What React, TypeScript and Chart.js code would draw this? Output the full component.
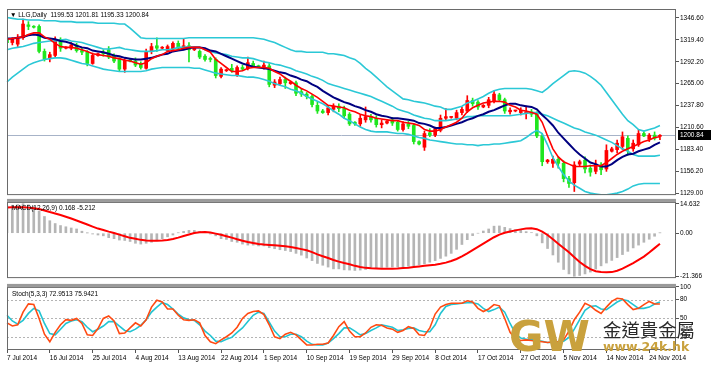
import React, { useEffect, useRef } from 'react';
import { Chart, registerables } from 'chart.js';

Chart.register(...registerables);

const FONT = '"Liberation Sans", Arial, sans-serif';
const W = 711;
const AXIS_W = 35;
const SLOTS = 126;

const SYMBOL = 'LLG,Daily';
const DATE_TICKS = ['7 Jul 2014', '16 Jul 2014', '25 Jul 2014', '4 Aug 2014', '13 Aug 2014', '22 Aug 2014', '1 Sep 2014', '10 Sep 2014', '19 Sep 2014', '29 Sep 2014', '8 Oct 2014', '17 Oct 2014', '27 Oct 2014', '5 Nov 2014', '14 Nov 2014', '24 Nov 2014'];
const PRICE_TICKS = [1346.6, 1319.4, 1292.2, 1265.0, 1237.8, 1210.6, 1183.4, 1156.2, 1129.0];
const MACD_TICKS = [14.632, 0, -21.366];
const STOCH_TICKS = [100, 80, 50, 20];
const STOCH_LEVELS = [80, 50, 20];

const OPEN = [1320, 1316, 1314, 1322, 1338, 1336, 1336, 1305, 1296, 1300,
  1320, 1309, 1309, 1313, 1306, 1304, 1290, 1300, 1304, 1307,
  1300, 1295, 1283, 1294, 1293, 1289, 1284, 1305, 1312, 1309,
  1306, 1308, 1315, 1310, 1312, 1307, 1305, 1299, 1296, 1295,
  1274, 1281, 1284, 1276, 1285, 1284, 1290, 1287, 1285, 1287,
  1263, 1265, 1270, 1265, 1266, 1255, 1252, 1249, 1238, 1231,
  1229, 1233, 1237, 1234, 1227, 1217, 1215, 1220, 1224, 1222,
  1214, 1216, 1220, 1217, 1208, 1215, 1213, 1193, 1186, 1204,
  1201, 1207, 1222, 1223, 1222, 1229, 1231, 1244, 1242, 1236,
  1238, 1243, 1251, 1245, 1230, 1231, 1229, 1228, 1230, 1227,
  1200, 1168, 1166, 1171, 1166, 1147, 1142, 1165, 1170, 1160,
  1156, 1164, 1159, 1181, 1183, 1187, 1197, 1184, 1189, 1203,
  1196, 1201, 1199.53];
const HIGH = [1323, 1322, 1326, 1345, 1342, 1337, 1338, 1308, 1304, 1323,
  1322, 1311, 1316, 1315, 1309, 1306, 1303, 1303, 1307, 1311,
  1302, 1297, 1296, 1295, 1297, 1292, 1308, 1315, 1322, 1311,
  1313, 1317, 1318, 1320, 1316, 1310, 1307, 1301, 1298, 1297,
  1285, 1283, 1289, 1287, 1288, 1298, 1293, 1288, 1293, 1290,
  1270, 1273, 1273, 1268, 1268, 1258, 1254, 1251, 1242, 1233,
  1238, 1240, 1240, 1237, 1229, 1218, 1226, 1236, 1227, 1225,
  1220, 1219, 1223, 1219, 1218, 1218, 1215, 1194, 1206, 1209,
  1211, 1226, 1234, 1224, 1232, 1236, 1250, 1247, 1244, 1239,
  1248, 1256, 1253, 1247, 1235, 1232, 1235, 1237, 1233, 1230,
  1202, 1171, 1175, 1174, 1169, 1150, 1168, 1170, 1174, 1164,
  1170, 1167, 1189, 1186, 1195, 1205, 1200, 1195, 1208, 1205,
  1203, 1205, 1201.81];
const LOW = [1312, 1313, 1311, 1320, 1332, 1334, 1303, 1293, 1292, 1298,
  1305, 1308, 1307, 1304, 1301, 1287, 1289, 1299, 1299, 1296,
  1291, 1281, 1279, 1292, 1286, 1283, 1283, 1302, 1305, 1308,
  1304, 1306, 1307, 1307, 1292, 1306, 1296, 1293, 1292, 1272,
  1272, 1280, 1279, 1274, 1281, 1282, 1285, 1285, 1283, 1261,
  1260, 1263, 1259, 1264, 1250, 1249, 1246, 1236, 1228, 1228,
  1226, 1230, 1230, 1222, 1213, 1213, 1212, 1217, 1217, 1211,
  1210, 1215, 1213, 1206, 1206, 1209, 1190, 1189, 1182, 1199,
  1199, 1205, 1219, 1222, 1220, 1226, 1229, 1237, 1233, 1235,
  1235, 1241, 1243, 1228, 1227, 1230, 1226, 1221, 1224, 1198,
  1163, 1166, 1161, 1160, 1143, 1136, 1131, 1163, 1154, 1150,
  1153, 1152, 1156, 1180, 1179, 1183, 1176, 1181, 1187, 1199,
  1193, 1195, 1195.33];
const CLOSE = [1316, 1320, 1322, 1339, 1336, 1335, 1305, 1296, 1301, 1320,
  1309, 1310, 1313, 1306, 1304, 1290, 1300, 1302, 1302, 1298,
  1293, 1283, 1294, 1293, 1288, 1285, 1305, 1311, 1309, 1310,
  1311, 1315, 1309, 1312, 1307, 1309, 1298, 1295, 1295, 1275,
  1283, 1282, 1281, 1285, 1283, 1291, 1287, 1286, 1288, 1264,
  1267, 1270, 1266, 1267, 1253, 1252, 1249, 1239, 1231, 1229,
  1235, 1237, 1234, 1225, 1215, 1215, 1222, 1224, 1220, 1214,
  1216, 1218, 1216, 1208, 1215, 1212, 1193, 1190, 1203, 1201,
  1209, 1222, 1224, 1223, 1229, 1233, 1244, 1240, 1236, 1238,
  1245, 1252, 1245, 1231, 1232, 1231, 1232, 1230, 1227, 1200,
  1168, 1170, 1171, 1166, 1147, 1141, 1164, 1168, 1159, 1155,
  1165, 1158, 1182, 1184, 1191, 1199, 1184, 1191, 1203, 1200,
  1201, 1197, 1200.84];

const MA_FAST = [1320, 1321, 1322, 1323, 1326, 1328, 1328, 1323, 1320, 1315,
  1311, 1310, 1310, 1309, 1307, 1305, 1302, 1301, 1300, 1299,
  1297, 1296, 1294, 1293, 1291, 1289, 1291, 1296, 1299, 1301,
  1305, 1306, 1307, 1309, 1310, 1310, 1310, 1307, 1304, 1295,
  1290, 1285, 1280, 1280, 1281, 1284, 1285, 1285, 1285, 1284,
  1280, 1277, 1272, 1268, 1263, 1259, 1256, 1252, 1248, 1243,
  1238, 1237, 1236, 1235, 1232, 1230, 1227, 1225, 1224, 1222,
  1221, 1220, 1219, 1219, 1217, 1216, 1215, 1213, 1208, 1206,
  1206, 1208, 1211, 1214, 1217, 1222, 1230, 1235, 1238, 1241,
  1242, 1243, 1243, 1242, 1238, 1236, 1232, 1231, 1229, 1227,
  1217, 1200, 1184, 1174, 1168, 1165, 1162, 1162, 1162, 1163,
  1163, 1163, 1167, 1172, 1177, 1181, 1184, 1187, 1190, 1193,
  1195, 1198, 1199];
const MA_SLOW = [1321, 1321, 1322, 1323, 1325, 1326, 1325, 1322, 1321, 1320,
  1318, 1317, 1315, 1312, 1310, 1309, 1306, 1305, 1304, 1302,
  1300, 1299, 1297, 1296, 1295, 1295, 1296, 1297, 1299, 1301,
  1302, 1305, 1306, 1307, 1309, 1310, 1310, 1309, 1306, 1305,
  1302, 1299, 1296, 1293, 1290, 1288, 1286, 1285, 1284, 1283,
  1281, 1279, 1278, 1275, 1273, 1270, 1268, 1264, 1261, 1256,
  1252, 1248, 1245, 1242, 1240, 1237, 1235, 1232, 1230, 1227,
  1225, 1224, 1222, 1222, 1221, 1220, 1219, 1216, 1215, 1213,
  1210, 1210, 1211, 1213, 1215, 1217, 1220, 1222, 1225, 1227,
  1230, 1232, 1235, 1238, 1240, 1240, 1238, 1237, 1236, 1233,
  1226, 1220, 1213, 1204, 1197, 1190, 1183, 1177, 1172, 1167,
  1165, 1162, 1162, 1165, 1170, 1174, 1177, 1178, 1181, 1183,
  1185, 1189, 1192];
const BB_UPPER = [1347, 1346, 1345, 1345, 1344, 1344, 1344, 1343, 1343, 1343,
  1342, 1342, 1342, 1341, 1341, 1341, 1341, 1340, 1340, 1340,
  1340, 1339, 1339, 1334, 1328, 1322, 1321, 1321, 1321, 1321,
  1321, 1321, 1321, 1321, 1322, 1322, 1322, 1322, 1322, 1322,
  1322, 1322, 1322, 1322, 1322, 1322, 1322, 1321, 1320, 1318,
  1316, 1313, 1310, 1307, 1305, 1305, 1304, 1304, 1304, 1304,
  1302, 1302, 1301, 1300, 1297, 1295, 1290, 1284, 1279, 1273,
  1267, 1261, 1256, 1251, 1246, 1245, 1243, 1242, 1241, 1239,
  1237, 1236, 1233, 1233, 1235, 1237, 1241, 1243, 1246, 1249,
  1253, 1256, 1258, 1259, 1259, 1259, 1259, 1259, 1258, 1256,
  1254, 1259, 1265, 1270, 1275, 1280, 1281, 1280, 1278, 1274,
  1269, 1263, 1254, 1245, 1236, 1227, 1219, 1214, 1208, 1206,
  1208, 1210, 1213];
const BB_MIDDLE = [1307, 1309, 1310, 1311, 1313, 1315, 1316, 1317, 1318, 1318,
  1319, 1320, 1318, 1317, 1316, 1314, 1312, 1310, 1308, 1308,
  1309, 1310, 1308, 1307, 1306, 1305, 1305, 1305, 1306, 1307,
  1307, 1308, 1310, 1310, 1311, 1310, 1310, 1307, 1305, 1303,
  1302, 1301, 1299, 1298, 1297, 1297, 1296, 1294, 1292, 1291,
  1289, 1288, 1286, 1284, 1281, 1279, 1277, 1274, 1272, 1269,
  1265, 1263, 1261, 1259, 1257, 1255, 1253, 1251, 1249, 1246,
  1243, 1240, 1237, 1233, 1231, 1229, 1226, 1224, 1222, 1221,
  1219, 1219, 1219, 1220, 1221, 1222, 1224, 1224, 1225, 1225,
  1225, 1225, 1225, 1225, 1225, 1226, 1227, 1228, 1229, 1229,
  1227, 1225, 1222, 1219, 1216, 1213, 1210, 1208, 1205, 1203,
  1201, 1198, 1195, 1192, 1188, 1184, 1181, 1177, 1175, 1175,
  1175, 1175, 1176];
const BB_LOWER = [1267, 1273, 1278, 1283, 1288, 1291, 1293, 1295, 1296, 1297,
  1297, 1296, 1294, 1292, 1290, 1289, 1287, 1285, 1283, 1282,
  1281, 1280, 1280, 1280, 1280, 1280, 1281, 1283, 1284, 1285,
  1285, 1285, 1285, 1285, 1285, 1284, 1284, 1282, 1280, 1278,
  1277, 1276, 1275, 1275, 1274, 1273, 1273, 1272, 1270, 1268,
  1265, 1263, 1261, 1258, 1256, 1253, 1249, 1246, 1243, 1240,
  1236, 1231, 1227, 1222, 1219, 1215, 1211, 1208, 1206, 1205,
  1205, 1205, 1204, 1203, 1203, 1202, 1200, 1198, 1197, 1195,
  1194, 1193, 1192, 1191, 1190, 1190, 1189, 1189, 1188, 1189,
  1189, 1190, 1190, 1191, 1192, 1193, 1194, 1198, 1203, 1207,
  1203, 1189, 1173, 1162, 1152, 1144, 1139, 1135, 1131, 1129,
  1128, 1127, 1127, 1128, 1129, 1131, 1134, 1138, 1140, 1141,
  1141, 1141, 1141];

const MACD_MAIN = [13.6, 13.9, 14.2, 14.632, 14.1, 13.2, 11.0, 8.3, 6.2, 4.8,
  3.8, 3.2, 2.6, 2.1, 1.0, 0.1, -0.4, -0.9, -1.3, -2.2,
  -2.7, -3.4, -3.6, -4.1, -5.0, -5.4, -5.0, -4.5, -3.6, -2.7,
  -1.8, -0.9, 0.2, 0.9, 1.4, 1.4, 0.9, 0.5, -0.4, -1.3,
  -2.7, -3.1, -4.1, -4.5, -5.4, -5.9, -5.9, -6.3, -6.3, -7.2,
  -7.7, -8.2, -8.6, -9.1, -10.0, -10.9, -12.3, -13.6, -15.0, -15.9,
  -16.8, -17.7, -17.7, -18.2, -18.3, -18.5, -18.3, -18.0, -17.6, -17.3,
  -17.0, -16.9, -16.8, -16.8, -16.6, -16.4, -16.2, -15.7, -15.2, -14.4,
  -13.6, -12.5, -11.4, -10.0, -8.0, -5.6, -3.2, -1.2, 0.0, 1.1,
  2.1, 3.5, 3.6, 2.9, 2.3, 1.8, 1.4, 0.8, 0.3, -1.3,
  -4.8, -7.6, -10.8, -14.4, -18.0, -20.2, -21.366, -21.0, -20.2, -19.3,
  -17.8, -16.2, -14.8, -13.5, -12.1, -10.6, -9.0, -7.3, -5.9, -4.5,
  -3.0, -1.5, 0.168];
const MACD_SIGNAL = [12.8, 12.9, 12.9, 12.9, 12.7, 12.4, 12.0, 11.3, 10.5, 9.8,
  9.0, 8.2, 7.3, 6.3, 5.3, 4.3, 3.3, 2.3, 1.6, 0.8,
  0.1, -0.7, -1.5, -2.3, -2.8, -3.3, -3.6, -3.7, -3.7, -3.6,
  -3.4, -2.9, -2.2, -1.4, -0.6, 0.1, 0.5, 0.6, 0.3, -0.2,
  -0.8, -1.5, -2.2, -3.0, -3.7, -4.4, -4.9, -5.3, -5.6, -5.8,
  -6.0, -6.2, -6.5, -6.8, -7.3, -7.9, -8.5, -9.4, -10.5, -11.4,
  -12.3, -13.3, -14.1, -14.8, -15.4, -16.2, -16.8, -17.2, -17.4, -17.5,
  -17.6, -17.6, -17.6, -17.5, -17.3, -17.1, -16.8, -16.5, -16.2, -15.9,
  -15.6, -15.2, -14.6, -13.8, -12.8, -11.5, -10.0, -8.4, -6.8, -5.2,
  -3.6, -2.0, -0.7, 0.2, 0.8, 1.4, 1.9, 2.3, 2.5, 2.0,
  0.8, -0.9, -3.0, -5.2, -7.3, -9.5, -11.9, -14.3, -16.2, -17.8,
  -18.9, -19.3, -19.4, -19.3, -18.6, -17.6, -16.2, -14.8, -13.2, -11.6,
  -9.6, -7.4, -5.212];

const STOCH_MAIN = [43, 38, 40, 60, 73, 72, 50, 25, 13, 28,
  40, 48, 47, 50, 42, 24, 23, 34, 50, 54,
  46, 26, 27, 35, 43, 38, 48, 68, 79, 76,
  65, 65, 55, 48, 47, 48, 43, 23, 13, 10,
  16, 21, 27, 36, 50, 58, 61, 62, 56, 40,
  21, 18, 25, 28, 24, 16, 8, 8, 9, 9,
  11, 23, 37, 45, 30, 21, 21, 27, 36, 40,
  39, 35, 33, 28, 31, 37, 34, 24, 23, 35,
  57, 68, 72, 74, 74, 74, 78, 76, 66, 61,
  65, 72, 70, 50, 28, 18, 15, 16, 15, 14,
  13, 12, 13, 13, 16, 30, 48, 60, 74, 70,
  63, 58, 68, 77, 82, 81, 72, 64, 66, 72,
  77, 73, 72.9513];
const STOCH_SIGNAL = [55, 46, 41, 47, 58, 66, 62, 42, 26, 24,
  33, 42, 46, 48, 45, 36, 29, 33, 38, 45,
  45, 38, 31, 29, 33, 39, 48, 60, 68, 75,
  72, 65, 57, 51, 48, 47, 40, 30, 23, 14,
  13, 17, 20, 28, 35, 45, 55, 60, 58, 44,
  30, 21, 21, 25, 25, 21, 14, 9, 8, 8,
  11, 18, 26, 35, 35, 30, 24, 26, 31, 35,
  40, 38, 36, 31, 32, 34, 35, 31, 29, 29,
  40, 58, 69, 72, 73, 74, 75, 75, 73, 66,
  61, 64, 68, 60, 42, 26, 19, 17, 17, 15,
  14, 12, 12, 13, 14, 20, 33, 48, 63, 69,
  70, 65, 64, 70, 76, 80, 78, 72, 66, 66,
  68, 73, 75.9421];

const CATEGORIES = Array.from({ length: SLOTS }, (_, i) => String(i));
const LAST = CLOSE.length - 1;

const BULL = '#ff0000';
const BEAR = '#1fe61f';
const BB_COLOR = '#2bc8d6';
const TICK_FONT = { family: FONT, size: 6.5 };

const panelPlugin: any = {
  id: 'panel',
  beforeDatasetsDraw(chart: any, _a: any, opts: any) {
    const { ctx, chartArea: a } = chart;
    const ys = chart.scales.y;
    ctx.save();
    for (const h of opts.levels || []) {
      const y = Math.round(ys.getPixelForValue(h.value)) + 0.5;
      ctx.strokeStyle = h.color;
      ctx.lineWidth = 1;
      ctx.setLineDash(h.dash || []);
      ctx.beginPath();
      ctx.moveTo(a.left, y);
      ctx.lineTo(a.right, y);
      ctx.stroke();
    }
    ctx.restore();
  },
  afterDraw(chart: any, _a: any, opts: any) {
    const { ctx, chartArea: a } = chart;
    ctx.save();
    ctx.setLineDash([]);
    if (opts.separator) {
      ctx.fillStyle = '#9a9a9a';
      ctx.fillRect(a.left, a.top - 3, a.right - a.left, 3);
    }
    ctx.strokeStyle = '#6a6a6a';
    ctx.lineWidth = 1;
    ctx.strokeRect(a.left + 0.5, a.top + 0.5, a.right - a.left - 1, a.bottom - a.top - 1);
    ctx.font = `6.5px ${FONT}`;
    ctx.textBaseline = 'middle';
    ctx.textAlign = 'left';
    ctx.fillStyle = '#000';
    if (opts.title) ctx.fillText(opts.title, a.left + opts.titleX, a.top + opts.titleY);
    if (opts.tag !== undefined) {
      const y = Math.round(chart.scales.y.getPixelForValue(opts.tag));
      ctx.fillStyle = '#000';
      ctx.fillRect(a.right + 2, y - 5, W - a.right - 2, 10);
      ctx.fillStyle = '#fff';
      ctx.fillText(opts.tag.toFixed(2), a.right + 4, y + 0.5);
    }
    ctx.restore();
  },
};

function yAxis(min: number, max: number, ticks: number[], fmt: (v: number) => string) {
  return {
    position: 'right',
    min,
    max,
    afterBuildTicks: (s: any) => { s.ticks = ticks.map((v) => ({ value: v })); },
    afterFit: (s: any) => { s.width = AXIS_W; },
    ticks: { callback: (v: any) => fmt(Number(v)), font: TICK_FONT, color: '#000', padding: 1, autoSkip: false },
    grid: { drawOnChartArea: false, drawTicks: true, tickLength: 3, tickColor: '#555', tickWidth: 1 },
    border: { display: false },
  };
}

const hiddenX = { type: 'category', offset: false, display: false, grid: { offset: false } };

function line(data: number[], color: string, width: number, order: number) {
  return { type: 'line', data, borderColor: color, borderWidth: width, pointRadius: 0, tension: 0, fill: false, order };
}

function baseOptions(padding: any, scales: any, panel: any) {
  return {
    responsive: false,
    animation: false,
    events: [],
    layout: { padding },
    scales,
    plugins: { legend: { display: false }, tooltip: { enabled: false }, panel },
  };
}

const fmt2 = (v: number) => v.toFixed(2);

function mainConfig(): any {
  const colors = CLOSE.map((c, i) => (c >= OPEN[i] ? BULL : BEAR));
  return {
    type: 'bar',
    plugins: [panelPlugin],
    data: {
      labels: CATEGORIES,
      datasets: [
        line(BB_UPPER, BB_COLOR, 1.6, 3),
        line(BB_MIDDLE, BB_COLOR, 1.6, 3),
        line(BB_LOWER, BB_COLOR, 1.6, 3),
        line(MA_SLOW, '#000080', 2, 2),
        line(MA_FAST, '#ff0000', 1.6, 1),
        { type: 'bar', data: HIGH.map((h, i) => [LOW[i], h]), backgroundColor: colors, barThickness: 1, grouped: false, borderWidth: 0, order: 6 },
        { type: 'bar', data: OPEN.map((o, i) => [o, CLOSE[i]]), backgroundColor: colors, barThickness: 3, grouped: false, borderWidth: 0, minBarLength: 1, order: 5 },
      ],
    },
    options: baseOptions(
      { left: 7, top: 9, right: 0, bottom: 3 },
      { x: hiddenX, y: yAxis(1126.54, 1357.66, PRICE_TICKS, fmt2) },
      {
        levels: [{ value: CLOSE[LAST], color: '#a7b3c8' }],
        title: `\u25BC ${SYMBOL}  ${fmt2(OPEN[LAST])} ${fmt2(HIGH[LAST])} ${fmt2(LOW[LAST])} ${fmt2(CLOSE[LAST])}`,
        titleX: 3, titleY: 6,
        tag: CLOSE[LAST],
      },
    ),
  };
}

function macdConfig(): any {
  return {
    type: 'bar',
    plugins: [panelPlugin],
    data: {
      labels: CATEGORIES,
      datasets: [
        { type: 'bar', data: MACD_MAIN, backgroundColor: '#b5b5b5', barThickness: 2, grouped: false, borderWidth: 0, order: 2 },
        line(MACD_SIGNAL, '#ff0000', 2, 1),
      ],
    },
    options: baseOptions(
      { left: 7, top: 2, right: 0, bottom: 1 },
      { x: hiddenX, y: yAxis(-22.28, 15.54, MACD_TICKS, (v) => (v === 0 ? '0.00' : v.toFixed(3))) },
      {
        separator: true,
        title: `MACD(12,26,9) ${MACD_MAIN[LAST].toFixed(3)} ${MACD_SIGNAL[LAST].toFixed(3)}`,
        titleX: 5, titleY: 6,
      },
    ),
  };
}

function stochConfig(): any {
  return {
    type: 'line',
    plugins: [panelPlugin],
    data: {
      labels: CATEGORIES,
      datasets: [
        line(STOCH_SIGNAL, '#22c4d2', 1.6, 2),
        line(STOCH_MAIN, '#ff4a12', 1.6, 1),
      ],
    },
    options: baseOptions(
      { left: 7, top: 2, right: 0, bottom: 1 },
      {
        x: {
          type: 'category',
          offset: false,
          afterBuildTicks: (s: any) => { s.ticks = s.ticks.filter((t: any) => t.value % 8 === 0 && t.value / 8 < DATE_TICKS.length); },
          afterFit: (s: any) => { s.height = 16; },
          ticks: { callback: (v: any) => DATE_TICKS[Number(v) / 8], autoSkip: false, maxRotation: 0, minRotation: 0, align: 'start', padding: 1, font: TICK_FONT, color: '#000' },
          grid: { drawOnChartArea: false, drawTicks: true, tickLength: 3, tickColor: '#555', offset: false },
          border: { display: false },
        },
        y: yAxis(0, 100, STOCH_TICKS, (v) => String(v)),
      },
      {
        separator: true,
        levels: STOCH_LEVELS.map((v) => ({ value: v, color: '#b4b4b4', dash: [2, 2] })),
        title: `Stoch(5,3,3) ${STOCH_MAIN[LAST].toFixed(4)} ${STOCH_SIGNAL[LAST].toFixed(4)}`,
        titleX: 5, titleY: 7.5,
      },
    ),
  };
}

function Panel({ make, top, height }: { make: () => any; top: number; height: number }) {
  const ref = useRef<HTMLCanvasElement | null>(null);
  useEffect(() => {
    const chart = new Chart(ref.current as HTMLCanvasElement, make());
    return () => chart.destroy();
  }, []);
  return (
    <canvas
      ref={ref}
      width={W}
      height={height}
      style={{ position: 'absolute', left: 0, top, width: W, height }}
    />
  );
}

export default function App() {
  return (
    <div style={{ position: 'absolute', left: 0, top: 0, width: W, height: 367, background: '#fff', overflow: 'hidden' }}>
      <Panel make={mainConfig} top={0} height={200} />
      <Panel make={macdConfig} top={197} height={86} />
      <Panel make={stochConfig} top={282} height={85} />
      <div style={{ position: 'absolute', left: 509, top: 316, font: 'bold 42px "DejaVu Sans", sans-serif', lineHeight: '42px', color: '#c9a13d', whiteSpace: 'nowrap' }}>GW</div>
      <div style={{ position: 'absolute', left: 603, top: 320, font: '18.4px "Noto Sans CJK TC", sans-serif', lineHeight: '18.4px', color: '#2a2a2a', whiteSpace: 'nowrap' }}>金道貴金屬</div>
      <div style={{ position: 'absolute', left: 603, top: 341, font: 'bold 12.5px "DejaVu Sans", sans-serif', lineHeight: '12.5px', color: '#c9a13d', whiteSpace: 'nowrap' }}>www.24k.hk</div>
    </div>
  );
}
